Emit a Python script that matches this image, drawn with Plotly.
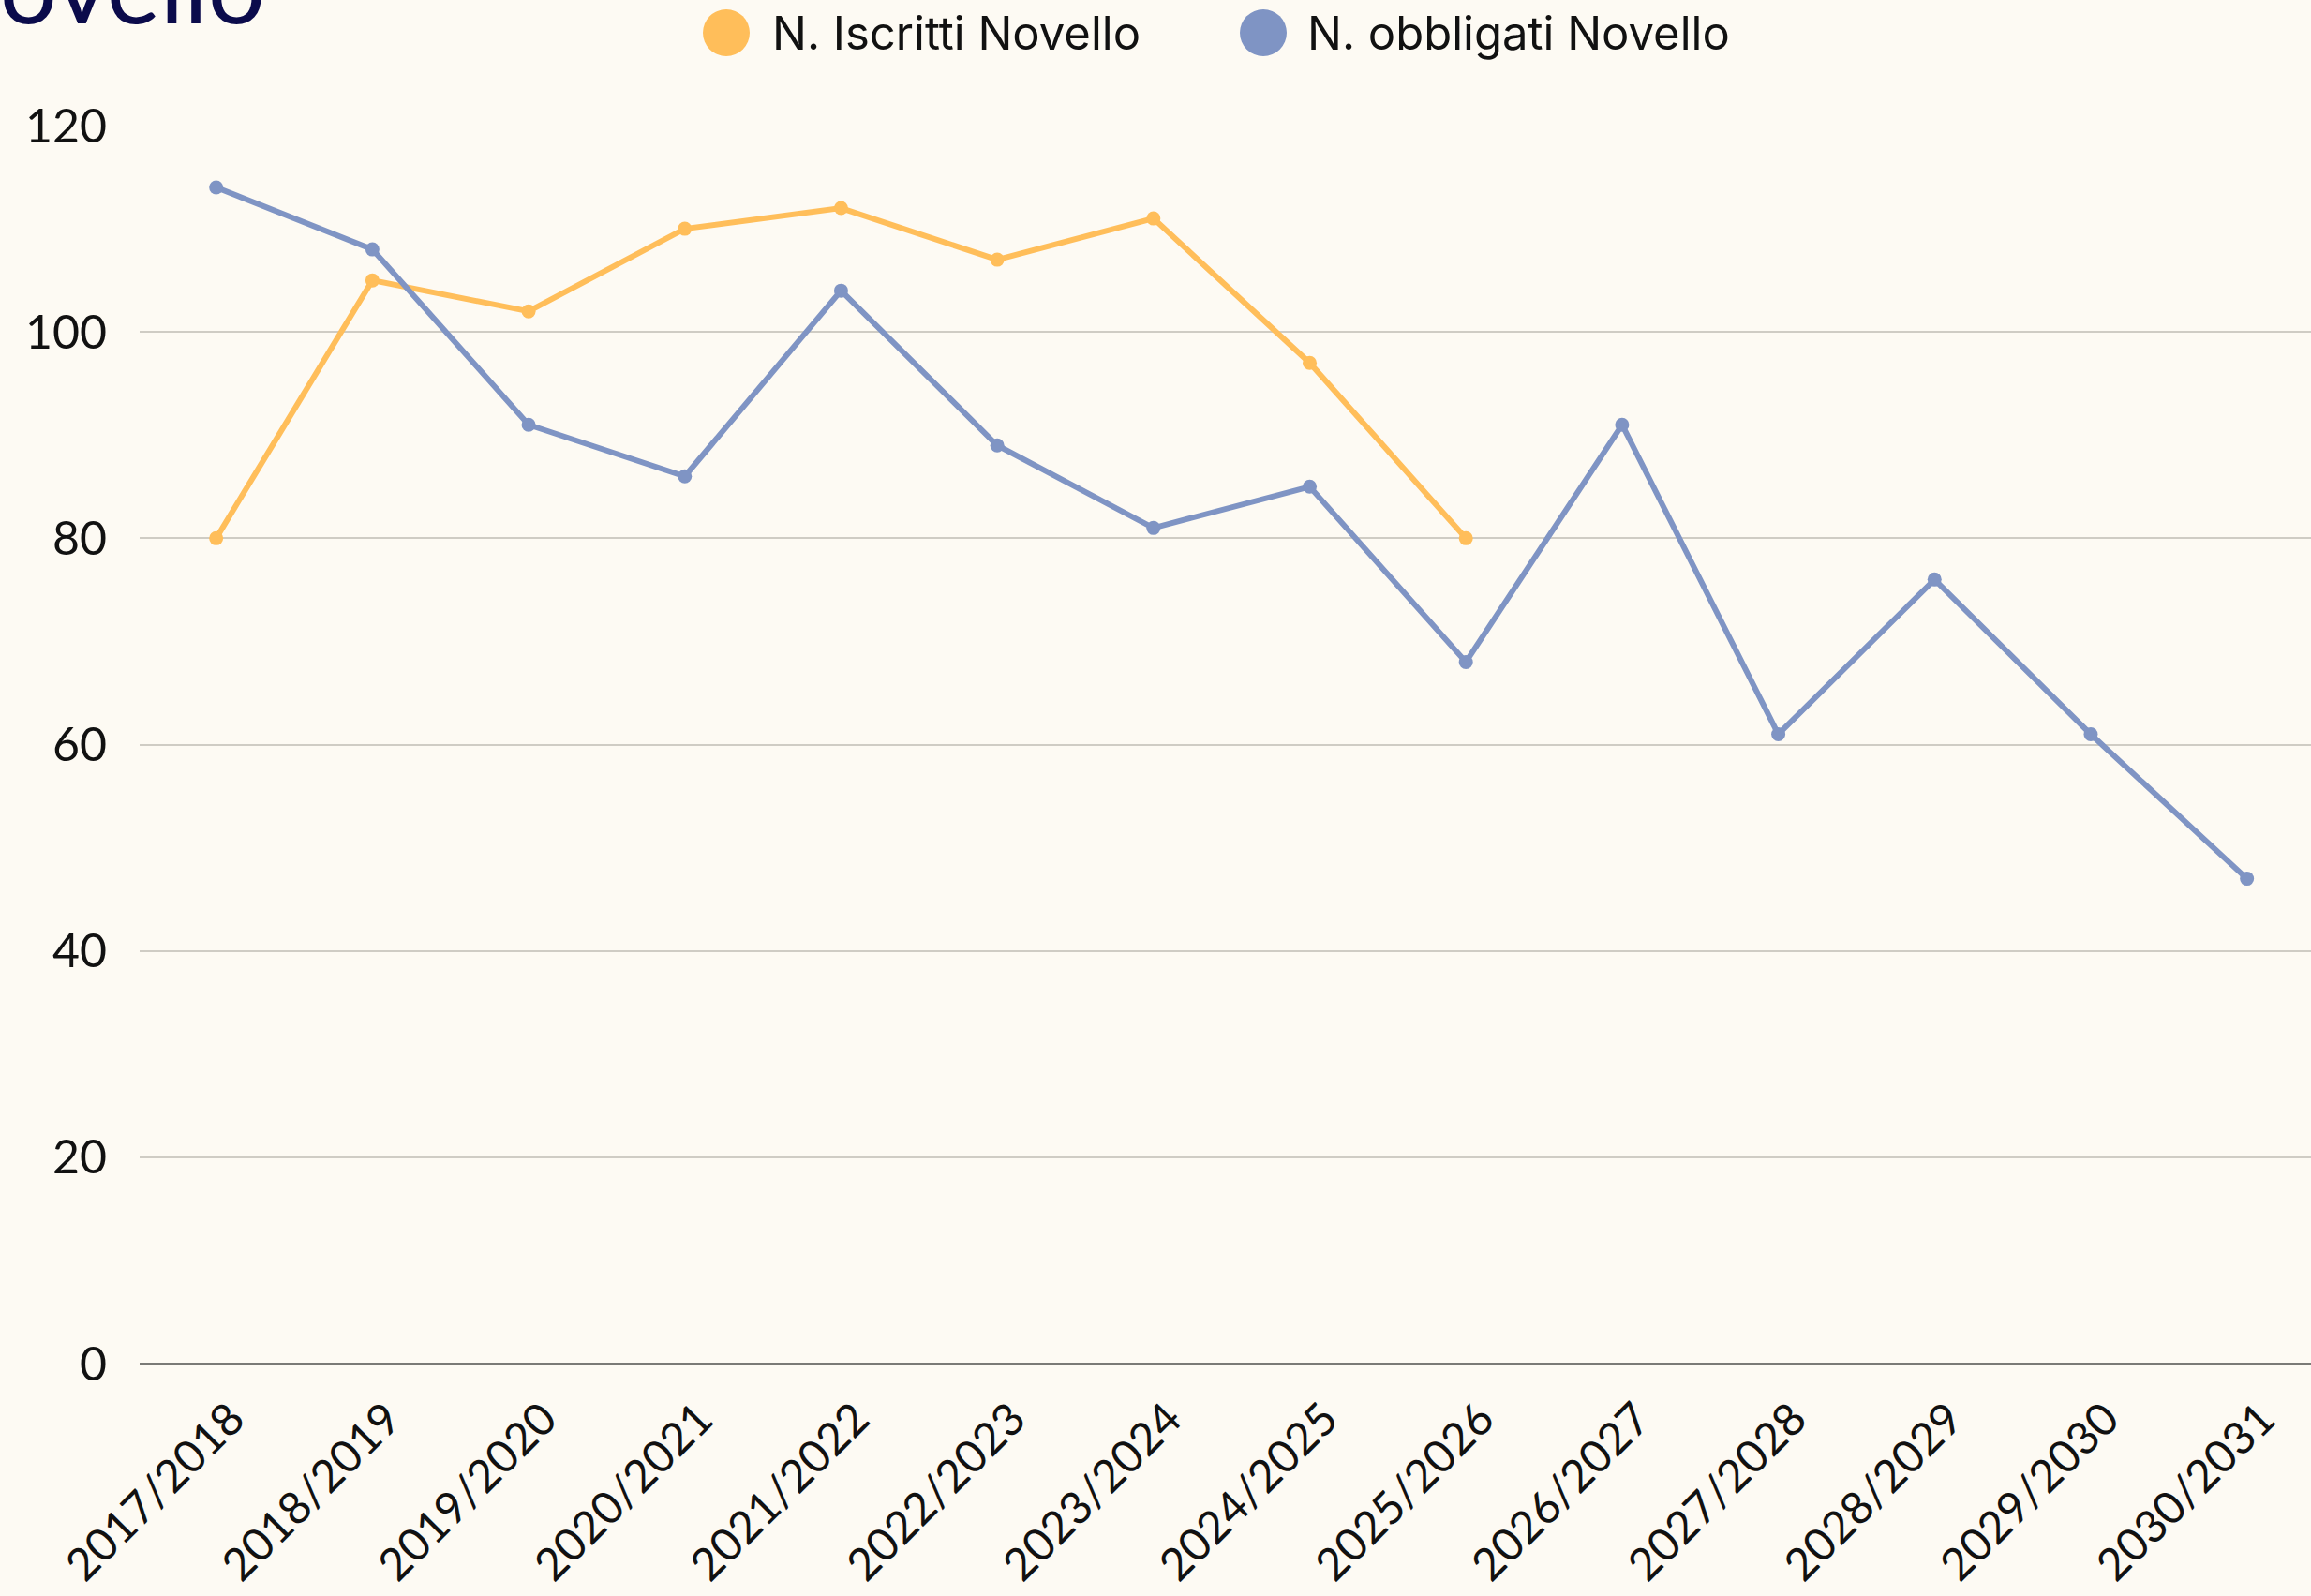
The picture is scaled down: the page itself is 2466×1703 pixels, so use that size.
import plotly.graph_objects as go

years = ["2017/2018", "2018/2019", "2019/2020", "2020/2021", "2021/2022", "2022/2023",
         "2023/2024", "2024/2025", "2025/2026", "2026/2027", "2027/2028", "2028/2029",
         "2029/2030", "2030/2031"]
iscritti = [80, 105, 102, 110, 112, 107, 111, 97, 80, None, None, None, None, None]
obbligati = [114, 108, 91, 86, 104, 89, 81, 85, 68, 91, 61, 76, 61, 47]
series_names = ["N. Iscritti Novello", "N. obbligati Novello"]
colors = ["#FFBE5A", "#7F94C4"]
y_ticks = [0, 20, 40, 60, 80, 100, 120]

W, H = 2466, 1703
L, R, T, B = 149, 0, 134, 248
pw, ph = W - L - R, H - T - B

fig = go.Figure()
for name, vals, c in zip(series_names, [iscritti, obbligati], colors):
    fig.add_trace(go.Scatter(x=years, y=vals, mode="lines+markers", name=name,
                             line=dict(color=c, width=6),
                             marker=dict(color=c, size=15),
                             showlegend=False))

def px_x(p):
    return (p - L) / pw

def px_y(p):
    return 1 + (T - p) / ph

shapes = []
annotations = []
leg_y = px_y(35)
for name, c, cx, tx in zip(series_names, colors, [775, 1348], [822, 1393]):
    shapes.append(dict(type="circle", xref="paper", yref="paper",
                       xsizemode="pixel", ysizemode="pixel",
                       xanchor=px_x(cx), yanchor=leg_y,
                       x0=-25, x1=25, y0=-25, y1=25,
                       fillcolor=c, line=dict(width=0)))
    annotations.append(dict(text=name, xref="paper", yref="paper",
                            x=px_x(tx), y=leg_y, xanchor="left", yanchor="middle",
                            showarrow=False,
                            font=dict(family="Inter", size=49, color="#111111")))

annotations.append(dict(text="Novello", xref="paper", yref="paper",
                        x=px_x(285), y=px_y(50), xanchor="right", yanchor="bottom",
                        showarrow=False,
                        font=dict(family="Lato", size=108, color="#0B0B4B")))

fig.update_layout(
    width=W, height=H,
    margin=dict(l=L, r=R, t=T, b=B, pad=0),
    paper_bgcolor="#FDFAF3", plot_bgcolor="#FDFAF3",
    shapes=shapes, annotations=annotations,
    xaxis=dict(type="category", range=[-0.49, 13.41], showgrid=False,
               tickangle=-45, tickfont=dict(family="Lato", size=48, color="#111111"),
               ticklabelstandoff=20, ticklabelshift=16, showline=False, zeroline=False),
    yaxis=dict(range=[0, 120], tickvals=y_ticks, showgrid=True, gridcolor="#CFCCC4",
               gridwidth=1.5, zeroline=True, zerolinecolor="#7A7A76", zerolinewidth=2,
               tickfont=dict(family="Lato", size=50, color="#111111"),
               ticklabelstandoff=34, showline=False),
)

fig.write_html("out.html", config={"displayModeBar": False},
               post_script="document.body.style.margin='0';document.body.style.background='#FDFAF3';")
